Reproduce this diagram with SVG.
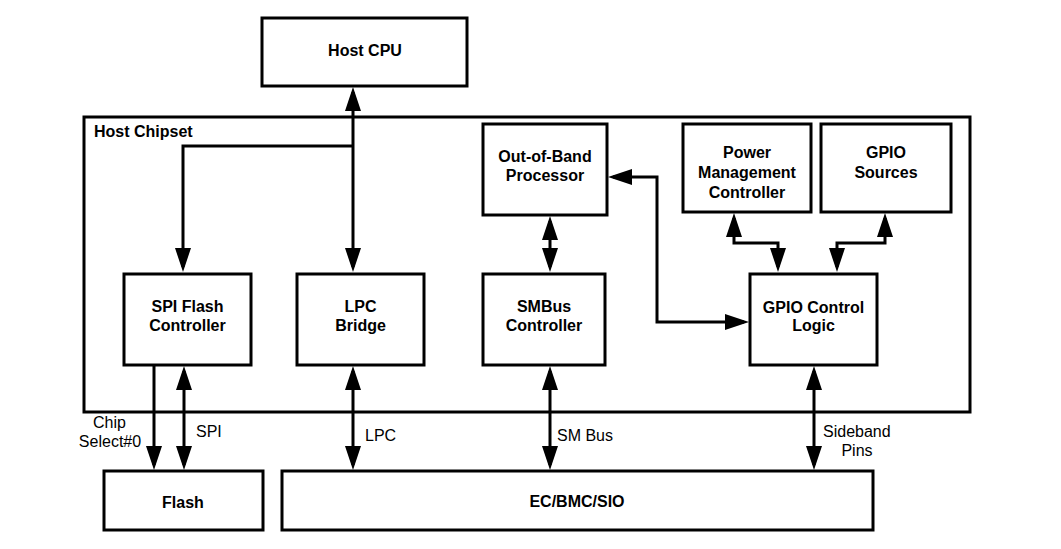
<svg xmlns="http://www.w3.org/2000/svg" width="1061" height="549" viewBox="0 0 1061 549">
<style>
.box{fill:#fff;stroke:#000;stroke-width:3}
.frame{fill:none;stroke:#000;stroke-width:3}
.t{font-family:"Liberation Sans",Arial,sans-serif;font-size:16px;font-weight:bold;text-anchor:middle;fill:#000}
.l{font-family:"Liberation Sans",Arial,sans-serif;font-size:16px;fill:#000}
.c{fill:none;stroke:#000;stroke-width:3}
</style>
<defs>
<marker id="ah" markerUnits="userSpaceOnUse" markerWidth="24" markerHeight="16" refX="19" refY="8" orient="auto-start-reverse" viewBox="0 0 24 16">
<path d="M0,0 L24,8 L0,16 z" fill="#000"/>
</marker>
</defs>
<rect width="1061" height="549" fill="#fff"/>
<g id="host-chipset">
<rect class="frame" x="84" y="117" width="886" height="295"/>
<text class="t" x="94" y="137" style="text-anchor:start">Host Chipset</text>
</g>
<g id="host-cpu">
<rect class="box" x="262" y="18" width="205" height="68"/>
<text class="t" x="365" y="56">Host CPU</text>
</g>
<g id="spi-flash-controller">
<rect class="box" x="124" y="274" width="127" height="91"/>
<text class="t" x="187.5" y="312">SPI Flash</text>
<text class="t" x="187.5" y="331">Controller</text>
</g>
<g id="lpc-bridge">
<rect class="box" x="297" y="274" width="127" height="91"/>
<text class="t" x="360.5" y="312">LPC</text>
<text class="t" x="360.5" y="331">Bridge</text>
</g>
<g id="smbus-controller">
<rect class="box" x="483" y="274" width="122" height="91"/>
<text class="t" x="544" y="312">SMBus</text>
<text class="t" x="544" y="331">Controller</text>
</g>
<g id="gpio-control-logic">
<rect class="box" x="750" y="274" width="127" height="91"/>
<text class="t" x="813.5" y="313">GPIO Control</text>
<text class="t" x="813.5" y="331">Logic</text>
</g>
<g id="oob-processor">
<rect class="box" x="483" y="124" width="124" height="91"/>
<text class="t" x="545" y="162">Out-of-Band</text>
<text class="t" x="545" y="181">Processor</text>
</g>
<g id="power-management-controller">
<rect class="box" x="683" y="124" width="128" height="88"/>
<text class="t" x="747" y="158">Power</text>
<text class="t" x="747" y="178">Management</text>
<text class="t" x="747" y="198">Controller</text>
</g>
<g id="gpio-sources">
<rect class="box" x="821" y="124" width="130" height="88"/>
<text class="t" x="886" y="158">GPIO</text>
<text class="t" x="886" y="178">Sources</text>
</g>
<g id="flash">
<rect class="box" x="104" y="471" width="159" height="59"/>
<text class="t" x="183" y="508">Flash</text>
</g>
<g id="ec-bmc-sio">
<rect class="box" x="282" y="471" width="591" height="59"/>
<text class="t" x="577" y="507">EC/BMC/SIO</text>
</g>
<g id="connectors">
<path class="c" d="M353,92 V267" marker-start="url(#ah)" marker-end="url(#ah)"/>
<path class="c" d="M353,146 H183 V267" marker-end="url(#ah)"/>
<path class="c" d="M154,365 V465" marker-end="url(#ah)"/>
<path class="c" d="M184,371 V465" marker-start="url(#ah)" marker-end="url(#ah)"/>
<path class="c" d="M353,371 V465" marker-start="url(#ah)" marker-end="url(#ah)"/>
<path class="c" d="M550,371 V465" marker-start="url(#ah)" marker-end="url(#ah)"/>
<path class="c" d="M814,371 V465" marker-start="url(#ah)" marker-end="url(#ah)"/>
<path class="c" d="M550,221 V267" marker-start="url(#ah)" marker-end="url(#ah)"/>
<path class="c" d="M613,177 H657 V322 H744" marker-start="url(#ah)" marker-end="url(#ah)"/>
<path class="c" d="M734,218 V243 H778 V267" marker-start="url(#ah)" marker-end="url(#ah)"/>
<path class="c" d="M885,218 V243 H837 V267" marker-start="url(#ah)" marker-end="url(#ah)"/>
<text class="l" x="109.5" y="428" text-anchor="middle">Chip</text>
<text class="l" x="110" y="447" text-anchor="middle">Select#0</text>
<text class="l" x="196" y="437">SPI</text>
<text class="l" x="365" y="441">LPC</text>
<text class="l" x="557" y="441">SM Bus</text>
<text class="l" x="823" y="437">Sideband</text>
<text class="l" x="857" y="456" text-anchor="middle">Pins</text>
</g>
</svg>
